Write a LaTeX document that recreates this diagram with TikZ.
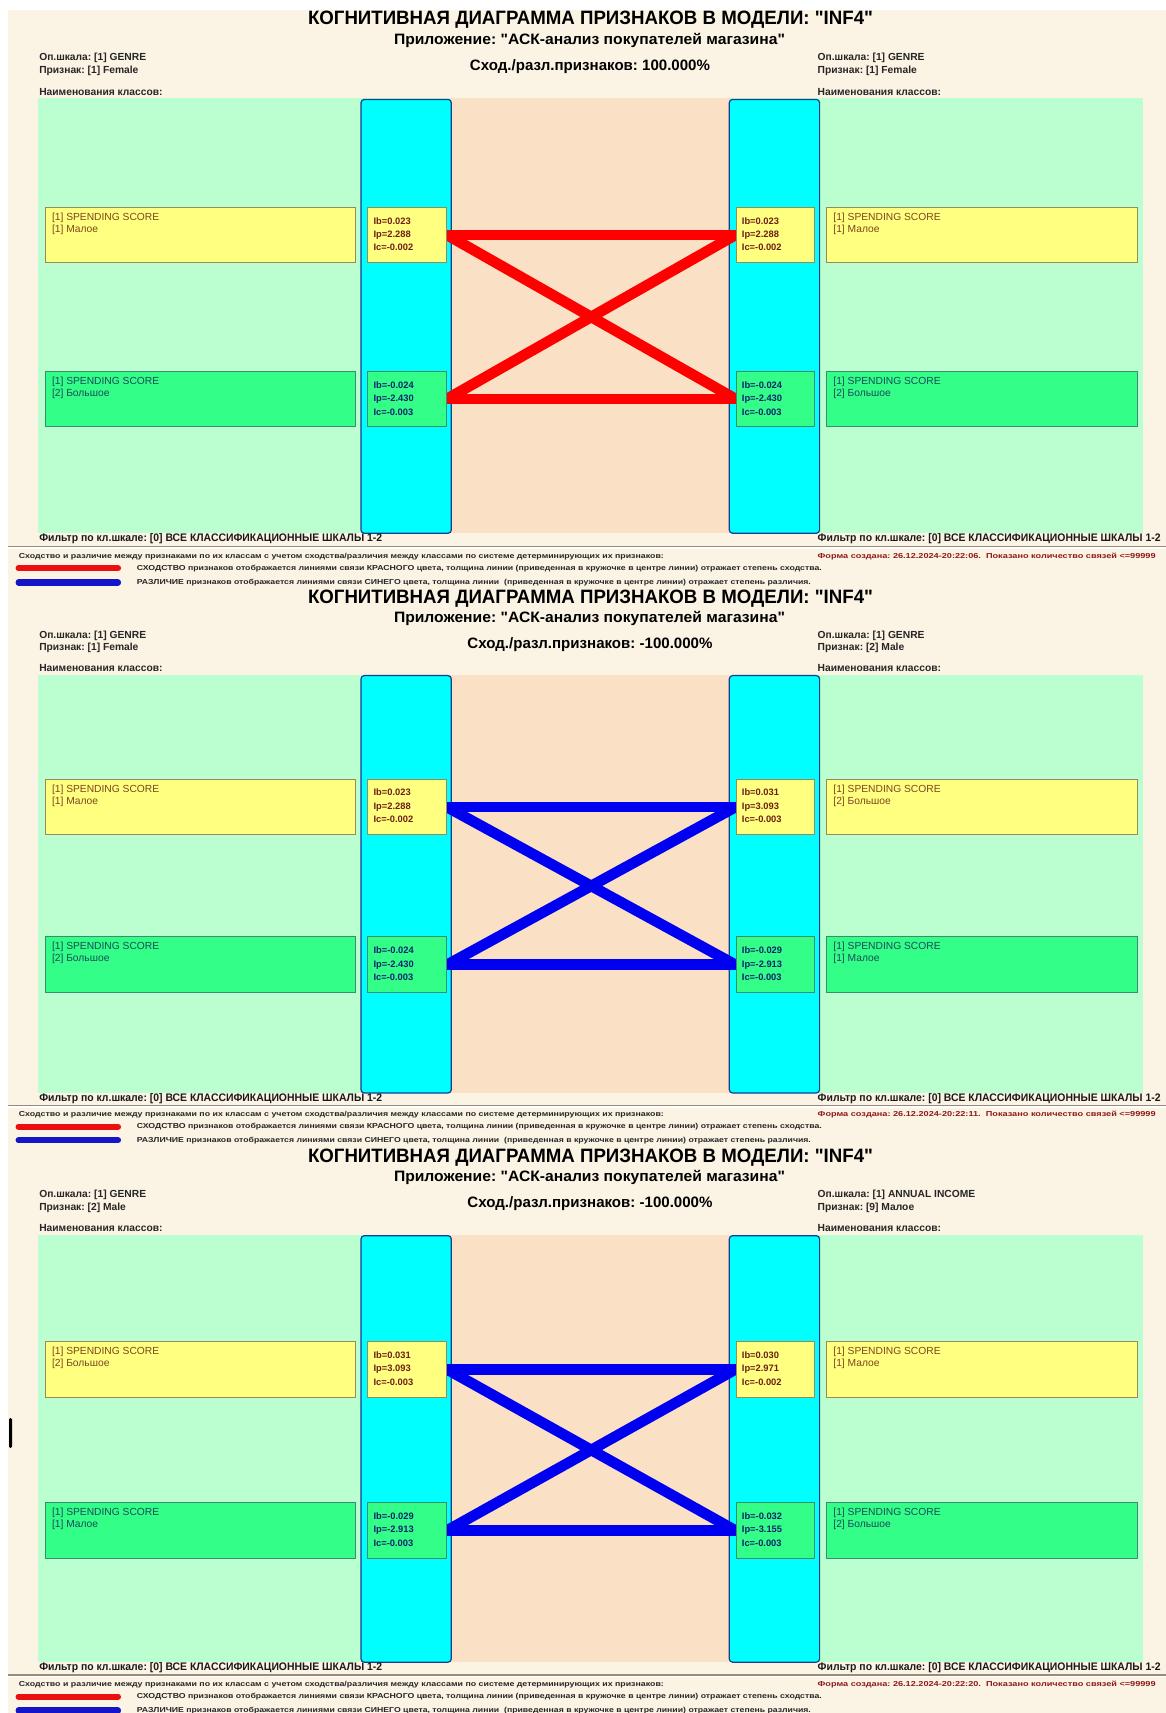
\documentclass[tikz,border=0pt]{standalone}
\usepackage{graphicx}
\usepackage{fontspec}
\setmainfont{Liberation Sans}
\usetikzlibrary{calc}
\pgfdeclarelayer{back}
\pgfdeclarelayer{links}
\pgfsetlayers{back,links,main}
\frenchspacing

\definecolor{cream}{RGB}{251,244,228}
\definecolor{lgreen}{RGB}{187,255,208}
\definecolor{peach}{RGB}{250,224,196}
\definecolor{cyanc}{RGB}{0,255,255}
\definecolor{cyanb}{RGB}{25,60,140}
\definecolor{yfill}{RGB}{255,255,128}
\definecolor{yborder}{RGB}{150,140,90}
\definecolor{gfill}{RGB}{51,255,136}
\definecolor{gborder}{RGB}{60,140,110}
\definecolor{ytext}{RGB}{125,70,30}
\definecolor{gtext}{RGB}{25,75,90}
\definecolor{yval}{RGB}{110,30,20}
\definecolor{gval}{RGB}{15,35,110}
\definecolor{formred}{RGB}{140,25,25}
\definecolor{redl}{RGB}{255,0,0}
\definecolor{bluel}{RGB}{0,0,240}
\definecolor{redleg}{RGB}{235,15,15}
\definecolor{blueleg}{RGB}{20,20,200}
\definecolor{sepc}{RGB}{150,140,125}

\newlength\fitlen
\newcommand\fitw[2]{\settowidth\fitlen{#2}\pgfmathsetmacro\fitscl{#1*0.75/\fitlen}\scalebox{\fitscl}[1]{#2}}

\tikzset{
  txtbase/.style={inner sep=0pt, text=black},
  ttlfont/.style={txtbase, font=\fontsize{14.5pt}{16pt}\selectfont\bfseries},
  subfont/.style={txtbase, font=\fontsize{11.3pt}{13pt}\selectfont\bfseries},
  sidefont/.style={txtbase, anchor=west, font=\fontsize{7.7pt}{9pt}\selectfont\bfseries, text=black!85},
  filtfont/.style={txtbase, anchor=west, font=\fontsize{8.2pt}{10pt}\selectfont\bfseries, text=black!90},
  foottxt/.style={txtbase, anchor=west, font=\fontsize{5.4pt}{6pt}\selectfont\bfseries, text=black!85},
  bigbox/.style={draw, line width=0.8pt, inner sep=0pt, anchor=north west, minimum width=310.4*0.75pt, minimum height=55.8*0.75pt},
  valbox/.style={draw, line width=0.8pt, inner sep=0pt, anchor=north west, minimum width=78.7*0.75pt, minimum height=55.8*0.75pt},
  ybx/.style={fill=yfill, draw=yborder},
  gbx/.style={fill=gfill, draw=gborder},
  boxtxt/.style={inner sep=0pt, anchor=north west, align=left, font=\fontsize{7.7pt}{9pt}\selectfont},
  valtxt/.style={inner sep=0pt, anchor=north west, align=left, font=\fontsize{7pt}{10.1pt}\selectfont\bfseries},
  colbox/.style={draw=cyanb, fill=cyanc, rounded corners=2.5pt, line width=0.9pt},
  linkline/.style={line width=8pt, line cap=round},
  legline/.style={line width=4.6pt, line cap=round},
}

% #1 prefix, #2 title y, #3 yscale, #4 link colour
\newcommand\panel[4]{%
\begin{scope}[shift={(0,#2)},yscale=#3]
\begin{pgfonlayer}{back}
  \fill[lgreen] (38.2,78.7) rectangle (1142.5,513.6);
  \fill[peach] (451,78.7) rectangle (729.5,513.6);
  \draw[colbox] (361,79.7) rectangle (451.3,513.6);
  \draw[colbox] (729.3,79.7) rectangle (819.6,513.6);
  \draw[sepc, line width=0.9pt] (8,526.7) -- (1166,526.7);
  \draw[white, line width=0.9pt] (8,528.2) -- (1166,528.2);
  \draw[legline, redleg] (18.6,548.6) -- (118,548.6);
  \draw[legline, blueleg] (18.6,562.8) -- (118,562.8);
\end{pgfonlayer}
\node[ttlfont] (#1ttl) at (590.5,0) {\fitw{565}{КОГНИТИВНАЯ ДИАГРАММА ПРИЗНАКОВ В МОДЕЛИ: \textquotedbl{}INF4\textquotedbl}};
\node[subfont] (#1app) at (589.5,20.7) {\fitw{391}{Приложение: \textquotedbl{}АСК-анализ покупателей магазина\textquotedbl}};
\node[subfont] (#1sim) at (590,47) {Сход./разл.признаков: \pSim};
\node[sidefont] (#1opl) at (39,38.2) {Оп.шкала: \pOpL};
\node[sidefont] (#1prl) at (39,51.3) {Признак: \pPrL};
\node[sidefont] (#1nml) at (39,72.1) {Наименования классов:};
\node[sidefont] (#1opr) at (817.4,38.2) {Оп.шкала: \pOpR};
\node[sidefont] (#1prr) at (817.4,51.3) {Признак: \pPrR};
\node[sidefont] (#1nmr) at (817.4,72.1) {Наименования классов:};
% boxes
\node[bigbox,ybx] (#1LT) at (44.8,186.8) {};
\node[boxtxt,text=ytext] (#1LTt) at ([xshift=5.2pt,yshift=-4.6pt]#1LT.north west) {[1] SPENDING SCORE\\{}\pLT};
\node[bigbox,gbx] (#1LB) at (44.8,350.8) {};
\node[boxtxt,text=gtext] (#1LBt) at ([xshift=5.2pt,yshift=-4.6pt]#1LB.north west) {[1] SPENDING SCORE\\{}\pLB};
\node[bigbox,ybx] (#1RT) at (826.2,186.8) {};
\node[boxtxt,text=ytext] (#1RTt) at ([xshift=5.2pt,yshift=-4.6pt]#1RT.north west) {[1] SPENDING SCORE\\{}\pRT};
\node[bigbox,gbx] (#1RB) at (826.2,350.8) {};
\node[boxtxt,text=gtext] (#1RBt) at ([xshift=5.2pt,yshift=-4.6pt]#1RB.north west) {[1] SPENDING SCORE\\{}\pRB};
\node[valbox,ybx] (#1LTv) at (367.2,186.8) {};
\node[valtxt,text=yval] (#1LTvt) at ([xshift=4.6pt,yshift=-7.9pt]#1LTv.north west) {\vLT};
\node[valbox,gbx] (#1LBv) at (367.2,350.8) {};
\node[valtxt,text=gval] (#1LBvt) at ([xshift=4.6pt,yshift=-7.9pt]#1LBv.north west) {\vLB};
\node[valbox,ybx] (#1RTv) at (735.5,186.8) {};
\node[valtxt,text=yval] (#1RTvt) at ([xshift=4.6pt,yshift=-7.9pt]#1RTv.north west) {\vRT};
\node[valbox,gbx] (#1RBv) at (735.5,350.8) {};
\node[valtxt,text=gval] (#1RBvt) at ([xshift=4.6pt,yshift=-7.9pt]#1RBv.north west) {\vRB};
\begin{pgfonlayer}{links}
  \draw[linkline,#4] (#1LTv.east) -- (#1RTv.west);
  \draw[linkline,#4] (#1LTv.east) -- (#1RBv.west);
  \draw[linkline,#4] (#1LBv.east) -- (#1RTv.west);
  \draw[linkline,#4] (#1LBv.east) -- (#1RBv.west);
\end{pgfonlayer}
% filters and footer
\node[filtfont] (#1fl) at (39,519.1) {\fitw{343}{Фильтр по кл.шкале: [0] ВСЕ КЛАССИФИКАЦИОННЫЕ ШКАЛЫ 1-2}};
\node[filtfont] (#1fr) at (817.4,519.1) {\fitw{343}{Фильтр по кл.шкале: [0] ВСЕ КЛАССИФИКАЦИОННЫЕ ШКАЛЫ 1-2}};
\node[foottxt] (#1ft) at (18.6,536.5) {\fitw{645}{Сходство и различие между признаками по их классам с учетом сходства/различия между классами по системе детерминирующих их признаков:}};
\node[foottxt] (#1l1) at (136.6,548.6) {\fitw{685}{СХОДСТВО признаков отображается линиями связи КРАСНОГО цвета, толщина линии (приведенная в кружочке в центре линии) отражает степень сходства.}};
\node[foottxt] (#1l2) at (136.6,562.8) {\fitw{674}{РАЗЛИЧИЕ признаков отображается линиями связи СИНЕГО цвета, толщина линии~ (приведенная в кружочке в центре линии) отражает степень различия.}};
\node[foottxt, text=formred] (#1form) at (817.4,536.5) {\fitw{338}{Форма создана: \pForm.~~Показано количество связей <=99999}};
\end{scope}}

\begin{document}
\begin{tikzpicture}[x=0.75pt,y=-0.75pt]
\begin{pgfonlayer}{back}
  \fill[white] (0,0) rectangle (1166,1713);
  \fill[cream] (8,10) rectangle (1166,591);
  \fill[cream] (8,591) rectangle (1166,1149);
  \fill[cream] (8,1149) rectangle (1166,1713);
  \fill[black, rounded corners=1pt] (9,1418) rectangle (12,1448);
\end{pgfonlayer}
\useasboundingbox (0,0) rectangle (1166,1713);

% panel 1
\def\pSim{100.000\%}
\def\pOpL{[1] GENRE}\def\pPrL{[1] Female}
\def\pOpR{[1] GENRE}\def\pPrR{[1] Female}
\def\pLT{[1] Малое}\def\pLB{[2] Большое}
\def\pRT{[1] Малое}\def\pRB{[2] Большое}
\def\vLT{Ib=0.023\\Ip=2.288\\Ic=-0.002}
\def\vLB{Ib=-0.024\\Ip=-2.430\\Ic=-0.003}
\def\vRT{Ib=0.023\\Ip=2.288\\Ic=-0.002}
\def\vRB{Ib=-0.024\\Ip=-2.430\\Ic=-0.003}
\def\pForm{26.12.2024-20:22:06}
\panel{pa}{19.7}{1}{redl}

% panel 2
\def\pSim{-100.000\%}
\def\pOpL{[1] GENRE}\def\pPrL{[1] Female}
\def\pOpR{[1] GENRE}\def\pPrR{[2] Male}
\def\pLT{[1] Малое}\def\pLB{[2] Большое}
\def\pRT{[2] Большое}\def\pRB{[1] Малое}
\def\vLT{Ib=0.023\\Ip=2.288\\Ic=-0.002}
\def\vLB{Ib=-0.024\\Ip=-2.430\\Ic=-0.003}
\def\vRT{Ib=0.031\\Ip=3.093\\Ic=-0.003}
\def\vRB{Ib=-0.029\\Ip=-2.913\\Ic=-0.003}
\def\pForm{26.12.2024-20:22:11}
\panel{pb}{598.9}{0.962}{bluel}

% panel 3
\def\pSim{-100.000\%}
\def\pOpL{[1] GENRE}\def\pPrL{[2] Male}
\def\pOpR{[1] ANNUAL INCOME}\def\pPrR{[9] Малое}
\def\pLT{[2] Большое}\def\pLB{[1] Малое}
\def\pRT{[1] Малое}\def\pRB{[2] Большое}
\def\vLT{Ib=0.031\\Ip=3.093\\Ic=-0.003}
\def\vLB{Ib=-0.029\\Ip=-2.913\\Ic=-0.003}
\def\vRT{Ib=0.030\\Ip=2.971\\Ic=-0.002}
\def\vRB{Ib=-0.032\\Ip=-3.155\\Ic=-0.003}
\def\pForm{26.12.2024-20:22:20}
\panel{pc}{1157.3}{0.983}{bluel}
\end{tikzpicture}
\end{document}
